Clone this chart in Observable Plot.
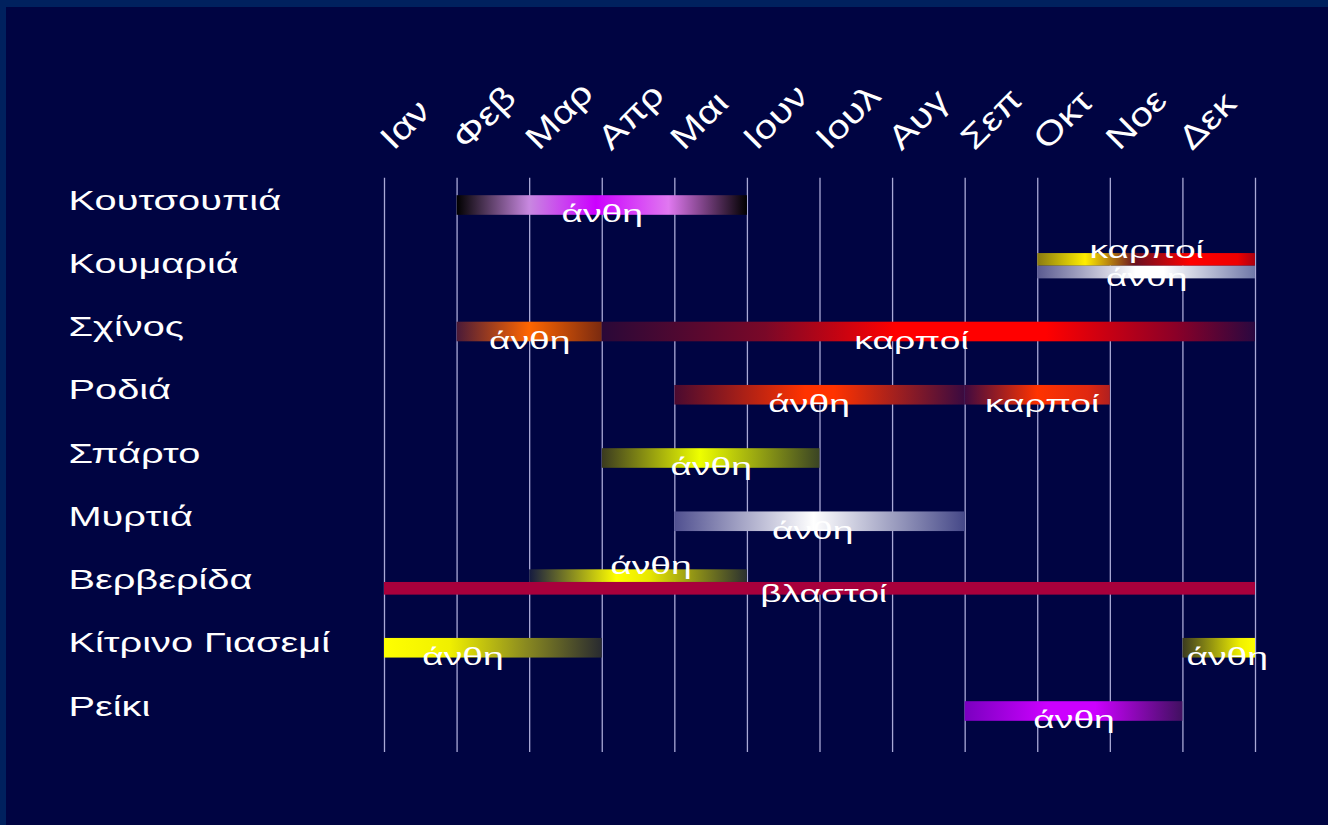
<!DOCTYPE html>
<html>
<head>
<meta charset="utf-8">
<script src="https://cdn.jsdelivr.net/npm/d3@7"></script>
<script src="https://cdn.jsdelivr.net/npm/@observablehq/plot@0.6"></script>
<style>
  html, body { margin: 0; padding: 0; background: #000442; }
  #wrap { position: relative; width: 1328px; height: 825px; background: #000442; overflow: hidden; }
  #wrap svg { position: absolute; left: 0; top: 0; }
  .edgeTop { position: absolute; left: 0; top: 0; width: 1328px; height: 7px; background: #00215e; z-index: 2; }
  .edgeLeft { position: absolute; left: 0; top: 0; width: 6px; height: 825px; background: #00215e; z-index: 2; }
</style>
</head>
<body>
<div id="wrap"><div class="edgeTop"></div><div class="edgeLeft"></div></div>
<script>
// ---- data ----
const plants = ["Κουτσουπιά", "Κουμαριά", "Σχίνος", "Ροδιά", "Σπάρτο", "Μυρτιά", "Βερβερίδα", "Κίτρινο Γιασεμί", "Ρείκι"];
const months = ["Ιαν", "Φεβ", "Μαρ", "Απρ", "Μαι", "Ιουν", "Ιουλ", "Αυγ", "Σεπ", "Οκτ", "Νοε", "Δεκ"];

const segPlant = ["Κουτσουπιά", "Κουμαριά", "Κουμαριά", "Σχίνος", "Σχίνος", "Ροδιά", "Ροδιά", "Σπάρτο", "Μυρτιά", "Βερβερίδα", "Βερβερίδα", "Κίτρινο Γιασεμί", "Κίτρινο Γιασεμί", "Ρείκι"];
const segStart = [1, 9, 9, 1, 3, 4, 8, 3, 4, 2, 0, 0, 11, 8];
const segEnd   = [5, 12, 12, 3, 12, 8, 10, 6, 8, 5, 12, 3, 12, 11];
const segLabel = ["άνθη", "καρποί", "άνθη", "άνθη", "καρποί", "άνθη", "καρποί", "άνθη", "άνθη", "άνθη", "βλαστοί", "άνθη", "άνθη", "άνθη"];
const segLane  = ["main", "top", "bottom", "main", "main", "main", "main", "main", "main", "top", "bottom", "main", "main", "main"];
const labelAt  = [3, 10.5, 10.5, 2, 7.26, 5.85, 9.06, 4.5, 5.9, 3.67, 6.05, 1.08, 11.61, 9.5];
const labelSide = ["below", "above", "below", "below", "below", "below", "below", "below", "below", "above", "below", "below", "below", "below"];

// ---- styles (gradient stops for each segment, same order) ----
const gradients = [
  [[0, "#000000"], [0.25, "#c888e0"], [0.48, "#cc00ff"], [0.73, "#e078f0"], [1, "#000000"]],
  [[0, "#8a7a10"], [0.22, "#ffee00"], [0.45, "#6a1020"], [0.7, "#ff0000"], [0.92, "#ee0000"], [1, "#aa0010"]],
  [[0, "#5a5a90"], [0.45, "#ffffff"], [0.58, "#ffffff"], [1, "#7078a8"]],
  [[0, "#4a1a38"], [0.5, "#ff6600"], [1, "#7a2a10"]],
  [[0, "#2a0838"], [0.25, "#7a0828"], [0.45, "#ff0000"], [0.68, "#ff0000"], [0.88, "#8a0028"], [1, "#2a0840"]],
  [[0, "#4a0a30"], [0.45, "#ff3300"], [0.55, "#ff3300"], [1, "#3a0a40"]],
  [[0, "#400a40"], [0.5, "#ff3300"], [0.85, "#e02810"], [1, "#b02020"]],
  [[0, "#3a3a20"], [0.45, "#eeff00"], [1, "#3a4424"]],
  [[0, "#505090"], [0.48, "#ffffff"], [1, "#454888"]],
  [[0, "#141a40"], [0.4, "#ffff00"], [0.55, "#e8e800"], [1, "#2a3030"]],
  [[0, "#a8003c"], [1, "#a8003c"]],
  [[0, "#ffff00"], [0.3, "#f0f000"], [0.65, "#8a8a20"], [1, "#282a30"]],
  [[0, "#3a3a20"], [0.8, "#f0f000"], [1, "#ffff00"]],
  [[0, "#7a00c0"], [0.38, "#cc00ff"], [0.6, "#cc00ff"], [1, "#401060"]]
];

// ---- build table ----
const rowH = 0.31, laneH = 0.2, split = -0.04;
const segments = segPlant.map((p, i) => {
  const row = plants.indexOf(p);
  let top, bottom;
  if (segLane[i] === "main") { top = row - rowH / 2; bottom = row + rowH / 2; }
  else if (segLane[i] === "top") { top = row + split - laneH; bottom = row + split; }
  else { top = row + split; bottom = row + split + laneH; }
  return {
    i, plant: p, row, start: segStart[i], end: segEnd[i], label: segLabel[i],
    top, bottom, labelX: labelAt[i], side: labelSide[i],
    labelY: labelSide[i] === "above" ? top : bottom
  };
});

const chart = Plot.plot({
  width: 1328,
  height: 825,
  marginLeft: 384,
  marginRight: 73,
  marginTop: 205,
  marginBottom: 114,
  x: {domain: [0, 12], axis: null},
  y: {domain: [0, plants.length - 1], reverse: true, axis: null},
  color: {type: "identity"},
  style: {background: "transparent", color: "white", fontFamily: "'Liberation Sans', Arial, sans-serif"},
  marks: [
    Plot.ruleX(d3.range(months.length + 1), {y1: -0.43, y2: 8.65, stroke: "#a9a9d6", strokeWidth: 1.3}),
    Plot.rect(segments, {x1: "start", x2: "end", y1: "top", y2: "bottom", fill: d => `url(#grad${d.i})`}),
    Plot.text(segments.filter(d => d.side === "below"), {
      x: "labelX", y: "labelY", text: "label", lineAnchor: "bottom", dy: 7,
      fontSize: 24, fill: "white"
    }),
    Plot.text(segments.filter(d => d.side === "above"), {
      x: "labelX", y: "labelY", text: "label", lineAnchor: "bottom", dy: 4,
      fontSize: 24, fill: "white"
    }),
    Plot.text(plants, {
      x: 0, y: (d, i) => i, text: d => d, textAnchor: "start", lineAnchor: "bottom",
      dx: -316, dy: 4, fontSize: 28, fill: "white"
    }),
    Plot.text(months, {
      x: (d, i) => i, text: d => d, frameAnchor: "top", textAnchor: "start", lineAnchor: "bottom",
      dx: 9, dy: -54, rotate: -45, fontSize: 33, fill: "white"
    })
  ]
});

const defs = d3.select(chart).insert("defs", ":first-child");
gradients.forEach((stops, i) => {
  const g = defs.append("linearGradient").attr("id", `grad${i}`)
    .attr("x1", "0").attr("x2", "1").attr("y1", "0").attr("y2", "0");
  stops.forEach(([o, c]) => g.append("stop").attr("offset", o).attr("stop-color", c));
});

document.getElementById("wrap").appendChild(chart);

// horizontal stretch of lettering as in the reference
const textGroups = chart.querySelectorAll('g[aria-label="text"]');
function stretch(group, factor) {
  if (!group) return;
  group.querySelectorAll("text").forEach(t => {
    const w = t.getComputedTextLength();
    t.setAttribute("textLength", (w * factor).toFixed(1));
    t.setAttribute("lengthAdjust", "spacingAndGlyphs");
  });
}
stretch(textGroups[0], 1.55);
stretch(textGroups[1], 1.55);
stretch(textGroups[2], 1.42);
stretch(textGroups[3], 1.22);
</script>
</body>
</html>
